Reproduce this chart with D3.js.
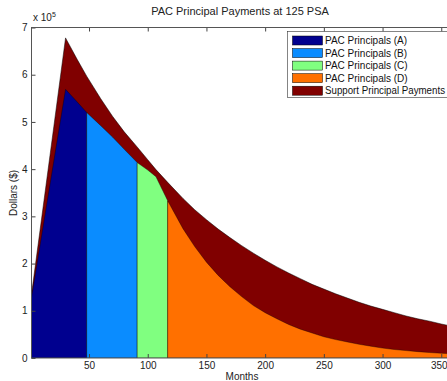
<!DOCTYPE html>
<html><head><meta charset="utf-8">
<script src="https://cdn.jsdelivr.net/npm/d3@7"></script>
<style>body{margin:0;background:#fff}svg{display:block;font-family:"Liberation Sans",Arial,sans-serif}</style>
</head><body><svg id="c" width="447" height="381"></svg>
<script>
// months and principal payments (units of 1e5 dollars)
const months = [1,10,20,30,40,48,60,70,80,91,100,107,117,130,140,150,160,170,180,190,200,210,220,230,240,250,260,270,280,290,300,310,320,330,340,350,360];
const totalPrincipal = [1.35,3.03,4.90,6.78,6.32,5.97,5.49,5.12,4.79,4.47,4.20,3.99,3.72,3.38,3.14,2.93,2.73,2.55,2.38,2.22,2.07,1.93,1.80,1.68,1.56,1.46,1.36,1.27,1.18,1.10,1.03,0.96,0.89,0.83,0.78,0.72,0.67];
const pacPrincipal = [1.28,2.65,4.17,5.69,5.42,5.20,4.92,4.68,4.42,4.14,3.98,3.84,3.33,2.74,2.36,2.03,1.75,1.51,1.30,1.11,0.96,0.83,0.71,0.61,0.53,0.45,0.39,0.34,0.29,0.25,0.21,0.18,0.157,0.135,0.116,0.10,0.086];
const trancheLabels = ["PAC Principals (A)","PAC Principals (B)","PAC Principals (C)","PAC Principals (D)"];
const trancheStarts = [1,48,91,117];
const trancheEnds = [48,91,117,360];
const supportLabel = "Support Principal Payments";
const trancheColors = ["#00008f","#0a8cff","#80ff80","#ff7000"];
const supportColor = "#800000";
const xTicks = [50,100,150,200,250,300,350];
const yTicks = [0,1,2,3,4,5,6,7];
const title = "PAC Principal Payments at 125 PSA";

const svg = d3.select("#c");
const L = 31.5, R = 453, T = 27.5, B = 358;
const x = d3.scaleLinear().domain([1,360]).range([L,R]);
const y = d3.scaleLinear().domain([0,7]).range([B,T]);

svg.append("defs").append("clipPath").attr("id","clip")
  .append("rect").attr("x",L).attr("y",T).attr("width",R-L).attr("height",B-T);
const g = svg.append("g").attr("clip-path","url(#clip)");

const pts = months.map((m,i)=>({m, t: totalPrincipal[i], p: pacPrincipal[i]}));
const areaT = d3.area().x(d=>x(d.m)).y0(y(0)).y1(d=>y(d.t));
const areaP = d3.area().x(d=>x(d.m)).y0(y(0)).y1(d=>y(d.p));

g.append("path").attr("d",areaT(pts)).attr("fill",supportColor)
  .attr("stroke","#000").attr("stroke-width",0.5);
trancheLabels.forEach((lab,i)=>{
  const sub = pts.filter(d=>d.m>=trancheStarts[i] && d.m<=trancheEnds[i]);
  g.append("path").attr("d",areaP(sub)).attr("fill",trancheColors[i])
    .attr("stroke","#000").attr("stroke-width",0.5).attr("stroke-opacity",0.7);
});

// axes
const fs = "10px";
const ax = svg.append("g").attr("transform",`translate(0,${B})`)
  .call(d3.axisBottom(x).tickValues(xTicks).tickSize(-4).tickPadding(4));
const at = svg.append("g").attr("transform",`translate(0,${T})`)
  .call(d3.axisTop(x).tickValues(xTicks).tickSize(-4).tickFormat(""));
const ay = svg.append("g").attr("transform",`translate(${L},0)`)
  .call(d3.axisLeft(y).tickValues(yTicks).tickSize(-4).tickPadding(4).tickFormat(d3.format("d")));
[ax,at,ay].forEach(a=>{
  a.select(".domain").remove();
  a.selectAll("line").attr("stroke","#444");
  a.selectAll("text").attr("font-size",fs).attr("fill","#222").attr("font-family","Liberation Sans, Arial, sans-serif");
});
ax.selectAll("text").filter(d=>d===350).attr("dx","-2.5");
svg.append("rect").attr("x",L).attr("y",T).attr("width",R-L).attr("height",B-T)
  .attr("fill","none").attr("stroke","#555").attr("stroke-width",1);

// exponent label
const ex = svg.append("text").attr("x",33).attr("y",21).attr("font-size","10px").attr("fill","#222");
ex.append("tspan").text("x 10");
ex.append("tspan").attr("font-size","7px").attr("dy",-4).text("5");

svg.append("text").attr("x",240).attr("y",15).attr("text-anchor","middle")
  .attr("font-size","11px").attr("fill","#222").text(title);
svg.append("text").attr("x",242).attr("y",380).attr("text-anchor","middle")
  .attr("font-size","10px").attr("fill","#222").text("Months");
svg.append("text").attr("transform","translate(17,193) rotate(-90)").attr("text-anchor","middle")
  .attr("font-size","10px").attr("fill","#222").text("Dollars ($)");

// legend
const lg = svg.append("g");
lg.append("rect").attr("x",287.5).attr("y",31.5).attr("width",170).attr("height",66)
  .attr("fill","#fff").attr("stroke","#333").attr("stroke-width",0.6);
const legLabels = trancheLabels.concat([supportLabel]);
const legColors = trancheColors.concat([supportColor]);
const ly = d3.scalePoint().domain(d3.range(legLabels.length)).range([40.5,90.7]);
legLabels.forEach((lab,i)=>{
  lg.append("rect").attr("x",292.5).attr("y",ly(i)-4.5).attr("width",30).attr("height",9)
    .attr("fill",legColors[i]).attr("stroke","#000").attr("stroke-width",0.5);
  const t = lg.append("text").attr("x",325).attr("y",ly(i)+3.5).attr("font-size","10px")
    .attr("fill","#111").text(lab);
  const w = t.node().getComputedTextLength();
  if (w > 120) t.attr("textLength",120).attr("lengthAdjust","spacingAndGlyphs");
});
</script></body></html>
